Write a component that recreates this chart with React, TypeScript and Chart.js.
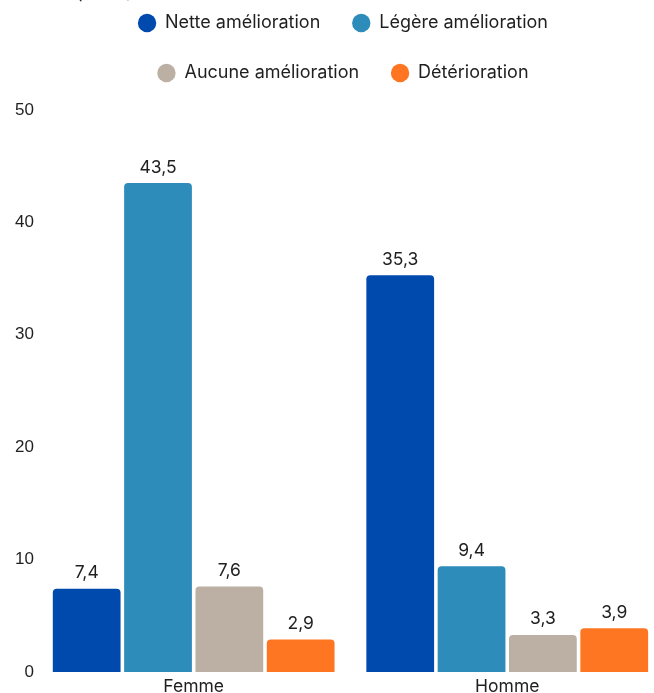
import React, { useEffect, useRef } from 'react';
import { Chart, registerables } from 'chart.js';

Chart.register(...registerables);

const categories = ['Femme', 'Homme'];
const seriesNames = ['Nette amélioration', 'Légère amélioration', 'Aucune amélioration', 'Détérioration'];
const netteAmelioration = [7.4, 35.3];
const legereAmelioration = [43.5, 9.4];
const aucuneAmelioration = [7.6, 3.3];
const deterioration = [2.9, 3.9];
const seriesColors = ['#004AAD', '#2D8CB9', '#BCB0A4', '#FF7622'];
const yMin = 0;
const yMax = 50;
const yStep = 10;
const titleFragment = '(en %)';

const FONT = 'Inter, "Noto Sans", sans-serif';
const TEXT = '#1f1f1f';

const fmt = (v: number) => v.toFixed(1).replace('.', ',');

const dataLabels = {
  id: 'dataLabels',
  afterDatasetsDraw(chart: any) {
    const ctx = chart.ctx;
    ctx.save();
    ctx.font = `17.5px ${FONT}`;
    ctx.fillStyle = TEXT;
    ctx.textAlign = 'center';
    ctx.textBaseline = 'bottom';
    chart.data.datasets.forEach((ds: any, i: number) => {
      const meta = chart.getDatasetMeta(i);
      meta.data.forEach((bar: any, j: number) => {
        ctx.fillText(fmt(ds.data[j]), bar.x, bar.y - 7);
      });
    });
    ctx.restore();
  },
};

const topTitle = {
  id: 'topTitle',
  afterDraw(chart: any) {
    const ctx = chart.ctx;
    ctx.save();
    ctx.font = `18px ${FONT}`;
    ctx.fillStyle = TEXT;
    ctx.textAlign = 'left';
    ctx.textBaseline = 'alphabetic';
    ctx.fillText(titleFragment, 76, 17);
    ctx.restore();
  },
};

const legendTweak = {
  id: 'legendTweak',
  beforeInit(chart: any) {
    const legend = chart.legend;
    if (!legend) return;
    const origFit = legend.fit;
    legend.fit = function () {
      const mw = this.maxWidth;
      this.maxWidth = Math.min(mw, 480);
      origFit.call(this);
      this.maxWidth = mw;
      this.height += 18;
    };
  },
  afterLayout(chart: any) {
    const legend = chart.legend;
    if (!legend) return;
    legend.left += 5;
    legend.right += 5;
  },
};

export default function App() {
  const ref = useRef<HTMLCanvasElement>(null);
  useEffect(() => {
    document.body.style.margin = '0';
    const values = [netteAmelioration, legereAmelioration, aucuneAmelioration, deterioration];
    const chart = new Chart(ref.current as HTMLCanvasElement, {
      type: 'bar',
      data: {
        labels: categories,
        datasets: seriesNames.map((name, i) => ({
          label: name,
          data: values[i],
          backgroundColor: seriesColors[i],
          borderRadius: 4,
          borderSkipped: 'start',
          categoryPercentage: 0.91,
          barPercentage: 0.95,
        })),
      },
      options: {
        responsive: false,
        animation: false,
        devicePixelRatio: 1,
        layout: { padding: { left: 12, right: 26, top: 0, bottom: 5 } },
        plugins: {
          legend: {
            position: 'top',
            labels: {
              usePointStyle: true,
              pointStyle: 'circle',
              boxWidth: 18,
              boxHeight: 13,
              padding: 32,
              color: TEXT,
              font: { family: FONT, size: 18 },
            },
          },
          tooltip: { enabled: false },
        },
        scales: {
          x: {
            grid: { display: false, drawTicks: false },
            border: { display: false },
            ticks: { color: TEXT, padding: 4, font: { family: FONT, size: 17.5 } },
          },
          y: {
            min: yMin,
            max: yMax,
            grid: { display: false, drawTicks: false },
            border: { display: false },
            ticks: {
              stepSize: yStep,
              padding: 3,
              color: TEXT,
              font: { family: '"Liberation Sans", Arial, sans-serif', size: 17 },
            },
          },
        },
      },
      plugins: [legendTweak, dataLabels, topTitle],
    });
    return () => chart.destroy();
  }, []);
  return (
    <div style={{ width: 654, height: 693, overflow: 'hidden', position: 'relative', background: '#fff' }}>
      <canvas ref={ref} width={690} height={724} style={{ position: 'absolute', top: -18, left: 0 }} />
    </div>
  );
}
